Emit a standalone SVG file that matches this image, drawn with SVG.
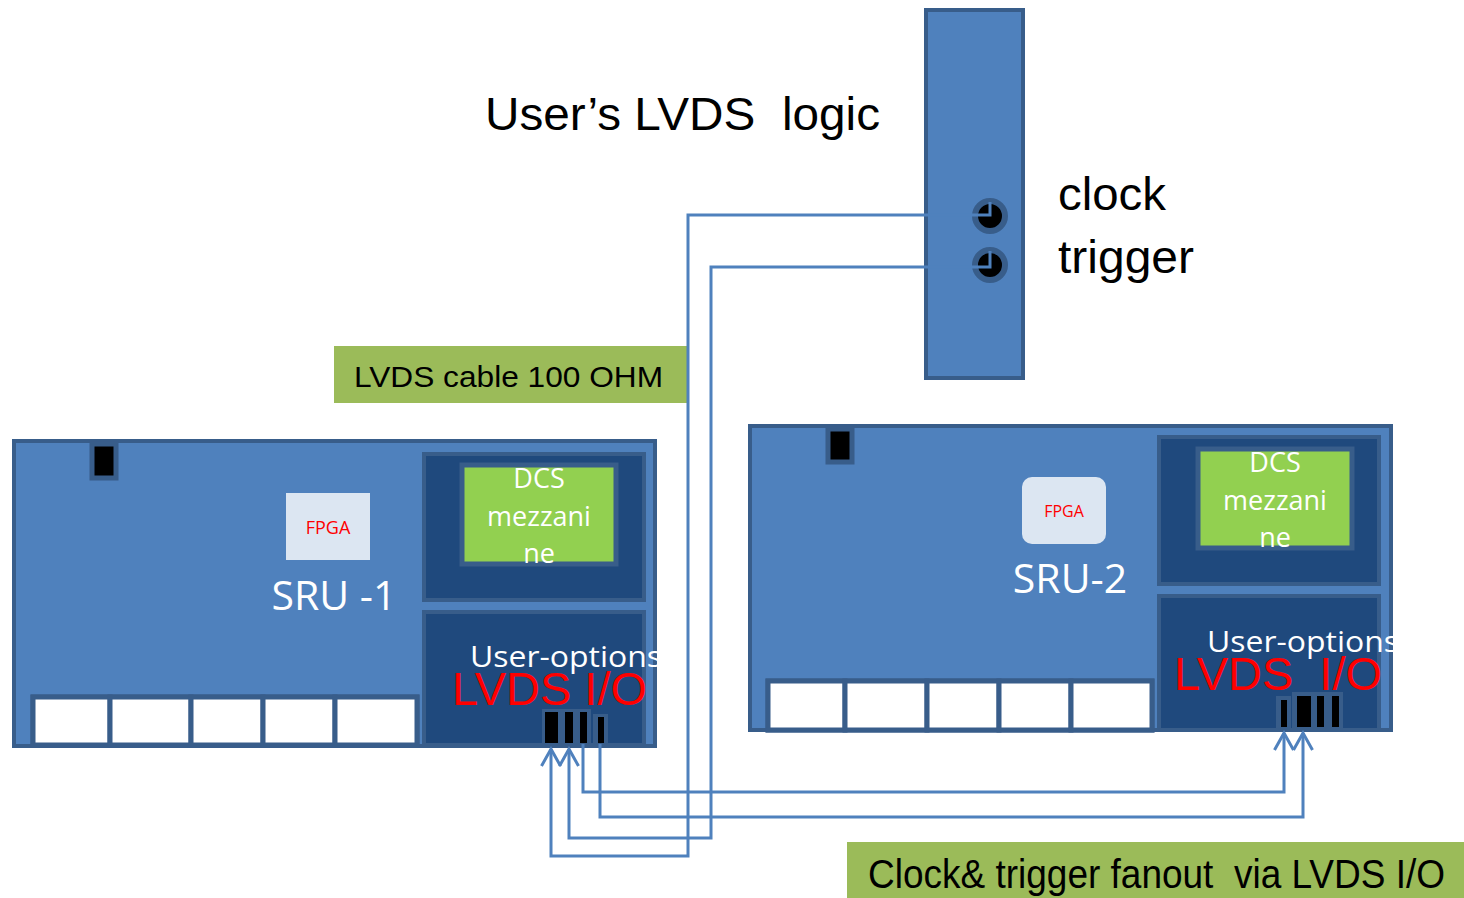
<svg xmlns="http://www.w3.org/2000/svg" width="1464" height="898" viewBox="0 0 1464 898">
<style>
.frame{fill:#4F81BD;stroke:#385D8A;stroke-width:4}
.panel{fill:#1F497D;stroke:#385D8A;stroke-width:4}
.green{fill:#92D050;stroke:#385D8A;stroke-width:5}
.slot{fill:#FFFFFF;stroke:#385D8A;stroke-width:5}
.blk{fill:#000000;stroke:#385D8A;stroke-width:5}
.fpga{fill:#DCE6F2}
.fpgat{font-family:"Open Sans","DejaVu Sans",sans-serif;fill:#FF0000;text-anchor:middle}
.sru{font-family:"Open Sans","DejaVu Sans",sans-serif;fill:#FFFFFF;font-size:41px;text-anchor:middle}
.dcs{font-family:"Open Sans","DejaVu Sans",sans-serif;fill:#FFFFFF;font-size:27px;text-anchor:middle}
.uo{font-family:"Open Sans","DejaVu Sans",sans-serif;fill:#FFFFFF;font-size:29px}
.lvds{font-family:"Liberation Sans",Arial,sans-serif;fill:#FF0000;font-size:46px}
.big{font-family:"Liberation Sans",Arial,sans-serif;fill:#000000;font-size:47px}
.lbl{font-family:"Liberation Sans",Arial,sans-serif;fill:#000000}
.wire{fill:none;stroke:#4F81BD;stroke-width:3}
.port{fill:#000000;stroke:#385D8A;stroke-width:6}
</style>
<defs>
<marker id="arr" viewBox="0 0 22 22" markerWidth="22" markerHeight="22" refX="19" refY="11" orient="auto" markerUnits="userSpaceOnUse">
<path d="M2,1.5 L19,11 L2,20.5" fill="none" stroke="#4F81BD" stroke-width="3"/>
</marker>
<clipPath id="clip1"><rect x="0" y="600" width="660" height="150"/></clipPath>
<clipPath id="clip2"><rect x="700" y="580" width="695" height="160"/></clipPath>
</defs>
<rect width="1464" height="898" fill="#FFFFFF"/>

<g id="title">
<text class="big" x="485" y="130" xml:space="preserve" textLength="395" lengthAdjust="spacingAndGlyphs">User’s LVDS  logic</text>
</g>

<g id="trigger-unit">
<rect class="frame" x="926" y="10" width="97" height="368"/>
<circle class="port" cx="990" cy="216" r="15"/>
<circle class="port" cx="990" cy="265" r="15"/>
<text class="big" x="1058" y="210" textLength="108" lengthAdjust="spacingAndGlyphs">clock</text>
<text class="big" x="1058" y="273" textLength="136" lengthAdjust="spacingAndGlyphs">trigger</text>
</g>

<g id="label-cable">
<rect x="334" y="346" width="353" height="57" fill="#9BBB59"/>
<text class="lbl" x="354" y="387" font-size="30" textLength="309" lengthAdjust="spacingAndGlyphs">LVDS cable 100 OHM</text>
</g>

<g id="sru-1">
<rect class="frame" x="14" y="441" width="641" height="305"/>
<rect class="blk" x="92" y="444" width="24" height="34"/>
<rect class="fpga" x="286" y="493" width="84" height="67"/>
<text class="fpgat" x="328" y="534" font-size="18">FPGA</text>
<text class="sru" x="334" y="610" xml:space="preserve">SRU -1</text>
<rect class="slot" x="33" y="697" width="384" height="48"/>
<rect class="slot" x="33" y="697" width="77" height="48"/>
<rect class="slot" x="110" y="697" width="81" height="48"/>
<rect class="slot" x="191" y="697" width="72" height="48"/>
<rect class="slot" x="263" y="697" width="72" height="48"/>
<rect class="slot" x="335" y="697" width="82" height="48"/>
<rect class="panel" x="424" y="454" width="220" height="146"/>
<rect class="green" x="462" y="465" width="154" height="99"/>
<text class="dcs" x="539" y="488">DCS</text>
<text class="dcs" x="539" y="526">mezzani</text>
<text class="dcs" x="539" y="563">ne</text>
<rect class="panel" x="424" y="612" width="220" height="133"/>
<g clip-path="url(#clip1)">
<text class="uo" x="470" y="667" textLength="192" lengthAdjust="spacingAndGlyphs">User-options</text>
</g>
<text class="lvds" x="452" y="705" textLength="195" lengthAdjust="spacingAndGlyphs">LVDS I/O</text>
<rect x="542" y="709" width="49" height="36" fill="#385D8A"/>
<rect x="593" y="714" width="15" height="31" fill="#385D8A"/>
<rect x="545" y="712" width="13" height="31" fill="#000000"/>
<rect x="565" y="712" width="8" height="31" fill="#000000"/>
<rect x="580" y="712" width="7" height="31" fill="#000000"/>
<rect x="598" y="717" width="6" height="26" fill="#000000"/>
</g>

<g id="sru-2">
<rect class="frame" x="750" y="426" width="641" height="304"/>
<rect class="blk" x="828" y="429" width="24" height="33"/>
<rect class="fpga" x="1022" y="477" width="84" height="67" rx="10"/>
<text class="fpgat" x="1064" y="517" font-size="16">FPGA</text>
<text class="sru" x="1070" y="593">SRU-2</text>
<rect class="slot" x="768" y="681" width="384" height="49"/>
<rect class="slot" x="768" y="681" width="77" height="49"/>
<rect class="slot" x="845" y="681" width="82" height="49"/>
<rect class="slot" x="927" y="681" width="72" height="49"/>
<rect class="slot" x="999" y="681" width="72" height="49"/>
<rect class="slot" x="1071" y="681" width="81" height="49"/>
<rect class="panel" x="1159" y="437" width="220" height="147"/>
<rect class="green" x="1198" y="449" width="154" height="99"/>
<text class="dcs" x="1275" y="472">DCS</text>
<text class="dcs" x="1275" y="510">mezzani</text>
<text class="dcs" x="1275" y="547">ne</text>
<rect class="panel" x="1159" y="596" width="220" height="134"/>
<g clip-path="url(#clip2)">
<text class="uo" x="1207" y="652" textLength="192" lengthAdjust="spacingAndGlyphs">User-options</text>
</g>
<text class="lvds" x="1174" y="690" xml:space="preserve" textLength="208" lengthAdjust="spacingAndGlyphs">LVDS  I/O</text>
<rect x="1276" y="696" width="15" height="35" fill="#385D8A"/>
<rect x="1292" y="692" width="51" height="39" fill="#385D8A"/>
<rect x="1281" y="700" width="6" height="27" fill="#000000"/>
<rect x="1297" y="696" width="14" height="31" fill="#000000"/>
<rect x="1317" y="696" width="7" height="31" fill="#000000"/>
<rect x="1332" y="696" width="7" height="31" fill="#000000"/>
</g>

<g id="label-fanout">
<rect x="847" y="842" width="617" height="56" fill="#9BBB59"/>
<text class="lbl" x="868" y="888" font-size="40" xml:space="preserve" textLength="577" lengthAdjust="spacingAndGlyphs">Clock&amp; trigger fanout  via LVDS I/O</text>
</g>

<g id="connectors">
<path class="wire" d="M990,202 V215 H688 V856 H551 V749" marker-end="url(#arr)"/>
<path class="wire" d="M990,251 V267 H711 V838 H569 V749" marker-end="url(#arr)"/>
<path class="wire" d="M583,744 V792 H1284 V733" marker-end="url(#arr)"/>
<path class="wire" d="M600,744 V817 H1303 V733" marker-end="url(#arr)"/>
</g>
</svg>
